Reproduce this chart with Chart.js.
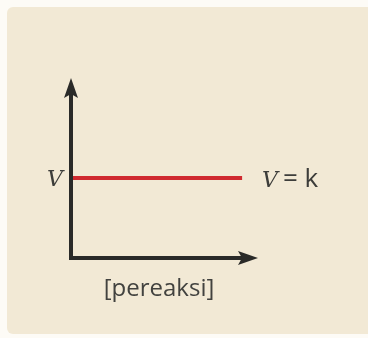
<!DOCTYPE html>
<html>
<head>
<meta charset="utf-8">
<script src="https://cdn.jsdelivr.net/npm/chart.js@4/dist/chart.umd.min.js"></script>
<style>
  html, body { margin: 0; padding: 0; background: #fdfbf6; }
  #wrap { width: 368px; height: 338px; }
</style>
</head>
<body>
<div id="wrap"><canvas id="lajuChart" width="368" height="338"></canvas></div>
<script>
// data: laju reaksi konstan terhadap [pereaksi]
const konsentrasi = [0, 9.15];      // sumbu x
const laju = [4.45, 4.45];          // V = k
const labelY = "V";
const labelGaris = "V = k";
const labelX = "[pereaksi]";

// plugin untuk panel latar, sumbu berpanah dan label
const sketsaPlugin = {
    id: "sketsa",
    beforeDraw(chart) {
        const ctx = chart.ctx;
        ctx.save();
        ctx.fillStyle = "#f2e9d5";
        ctx.beginPath();
        ctx.roundRect(7, 7, 368, 327, 6);
        ctx.fill();
        ctx.restore();
    },
    afterDraw(chart) {
        const ctx = chart.ctx;
        const xs = chart.scales.x, ys = chart.scales.y;
        const x0 = xs.getPixelForValue(0), y0 = ys.getPixelForValue(0);
        const xTop = ys.getPixelForValue(ys.max);
        const xEnd = xs.getPixelForValue(xs.max);
        ctx.save();
        ctx.strokeStyle = "#2a2a28";
        ctx.fillStyle = "#2a2a28";
        ctx.lineWidth = 4;
        ctx.lineCap = "butt";
        ctx.beginPath();
        ctx.moveTo(x0, xTop + 14);
        ctx.lineTo(x0, y0);
        ctx.lineTo(xEnd - 14, y0);
        ctx.stroke();
        // panah
        ctx.beginPath();
        ctx.moveTo(x0, xTop);
        ctx.lineTo(x0 - 7, xTop + 20);
        ctx.lineTo(x0, xTop + 16);
        ctx.lineTo(x0 + 7, xTop + 20);
        ctx.closePath();
        ctx.fill();
        ctx.beginPath();
        ctx.moveTo(xEnd, y0);
        ctx.lineTo(xEnd - 20, y0 - 7);
        ctx.lineTo(xEnd - 16, y0);
        ctx.lineTo(xEnd - 20, y0 + 7);
        ctx.closePath();
        ctx.fill();

        const yV = ys.getPixelForValue(laju[0]);
        ctx.fillStyle = "#3d3d3a";
        ctx.textBaseline = "middle";
        ctx.font = "italic 22px 'DejaVu Serif'";
        ctx.textAlign = "right";
        ctx.fillText(labelY, x0 - 8, yV + 2);
        ctx.textAlign = "left";
        ctx.fillText("V", 262, yV + 3);
        ctx.font = "26px 'Open Sans'";
        ctx.fillText(labelGaris.slice(2), 283, yV + 2);
        ctx.textAlign = "center";
        ctx.font = "24px 'Open Sans'";
        ctx.fillStyle = "#42423f";
        ctx.fillText(labelX, 159, y0 + 31);
        ctx.restore();
    }
};

const ctx = document.getElementById("lajuChart").getContext("2d");
new Chart(ctx, {
    type: "line",
    data: {
        datasets: [{
            data: konsentrasi.map((x, i) => ({ x: x, y: laju[i] })),
            borderColor: "#d02a2f",
            borderWidth: 4,
            pointRadius: 0,
            fill: false
        }]
    },
    options: {
        responsive: false,
        animation: false,
        layout: { padding: { left: 71, right: 110, top: 78, bottom: 80 } },
        plugins: { legend: { display: false }, tooltip: { enabled: false } },
        scales: {
            x: { type: "linear", min: 0, max: 10, display: false },
            y: { type: "linear", min: 0, max: 10, display: false }
        }
    },
    plugins: [sketsaPlugin]
});
</script>
</body>
</html>
